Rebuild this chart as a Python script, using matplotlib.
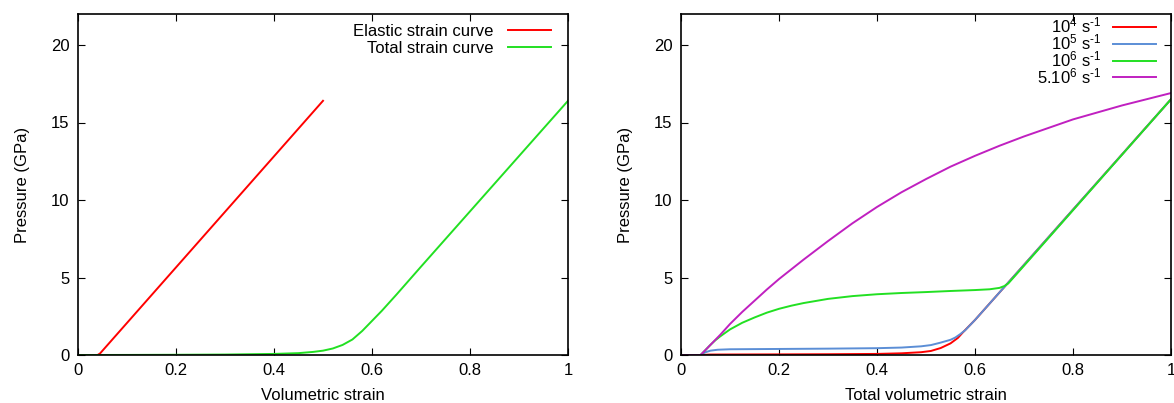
import numpy as np
import matplotlib.pyplot as plt

plt.rcParams['font.family'] = ['Liberation Sans', 'DejaVu Sans']
plt.rcParams['mathtext.fontset'] = 'custom'
plt.rcParams['mathtext.rm'] = 'Liberation Sans'
plt.rcParams['mathtext.it'] = 'Liberation Sans'

# ---- left panel: elastic vs total strain curve ----
elastic_x = [0.0, 0.04, 0.045, 0.5]
elastic_p = [0.0, 0.0, 0.1, 16.4]

total_x = [0.0, 0.1, 0.2, 0.3, 0.4, 0.45, 0.48, 0.5, 0.52, 0.54, 0.56, 0.58,
           0.6, 0.62, 0.65, 0.7, 1.0]
total_p = [0.0, 0.005, 0.015, 0.03, 0.07, 0.12, 0.2, 0.28, 0.42, 0.65, 1.0, 1.55,
           2.2, 2.85, 3.9, 5.7, 16.4]

# ---- right panel: strain rates ----
r4_x = [0.0, 0.04, 0.06, 0.2, 0.3, 0.4, 0.45, 0.49, 0.51, 0.53, 0.55, 0.565,
        0.575, 0.6, 0.665, 1.0]
r4_p = [0.0, 0.0, 0.03, 0.04, 0.05, 0.07, 0.11, 0.18, 0.26, 0.45, 0.75, 1.1,
        1.45, 2.26, 4.57, 16.5]

r5_x = [0.0, 0.04, 0.05, 0.06, 0.075, 0.1, 0.2, 0.3, 0.4, 0.45, 0.49, 0.51,
        0.53, 0.55, 0.56, 0.57, 0.58, 0.6, 0.665, 1.0]
r5_p = [0.0, 0.0, 0.18, 0.28, 0.34, 0.37, 0.39, 0.41, 0.44, 0.48, 0.56, 0.64,
        0.8, 0.98, 1.13, 1.35, 1.6, 2.26, 4.57, 16.5]

r6_x = [0.0, 0.04, 0.06, 0.07, 0.08, 0.1, 0.125, 0.15, 0.175, 0.2, 0.225, 0.25,
        0.3, 0.35, 0.4, 0.45, 0.5, 0.55, 0.6, 0.63, 0.65, 0.66, 0.668, 0.7, 1.0]
r6_p = [0.0, 0.0, 0.65, 0.95, 1.2, 1.65, 2.08, 2.42, 2.73, 2.98, 3.18, 3.35,
        3.62, 3.8, 3.92, 4.0, 4.06, 4.13, 4.19, 4.24, 4.33, 4.45, 4.62, 5.76, 16.5]

r56_x = [0.0, 0.04, 0.06, 0.08, 0.1, 0.125, 0.15, 0.175, 0.2, 0.25, 0.3, 0.35,
         0.4, 0.45, 0.5, 0.55, 0.6, 0.65, 0.7, 0.75, 0.8, 0.85, 0.9, 0.95, 1.0]
r56_p = [0.0, 0.0, 0.65, 1.3, 2.0, 2.78, 3.5, 4.22, 4.9, 6.15, 7.35, 8.5,
         9.55, 10.5, 11.35, 12.15, 12.85, 13.5, 14.1, 14.65, 15.2, 15.65, 16.1,
         16.5, 16.9]

RED = '#ff0000'
BLUE = '#5b8ed6'
GREEN = '#22e022'
MAGENTA = '#c020c0'
LW = 1.4
FS = 12


def style_axes(ax, xlabel):
    ax.set_xlim(0, 1)
    ax.set_ylim(0, 22)
    ax.set_xticks([0, 0.2, 0.4, 0.6, 0.8, 1])
    ax.set_xticklabels(['0', '0.2', '0.4', '0.6', '0.8', '1'])
    ax.set_yticks([0, 5, 10, 15, 20])
    ax.tick_params(direction='in', top=True, right=True, length=5,
                   width=0.8, labelsize=FS, pad=6)
    for s in ax.spines.values():
        s.set_linewidth(1.2)
    ax.set_xlabel(xlabel, fontsize=FS, labelpad=7)
    ax.set_ylabel('Pressure (GPa)', fontsize=FS, labelpad=15)


fig = plt.figure(figsize=(11.74, 4.03), dpi=100)
ax1 = fig.add_axes([78 / 1174, 48 / 403, 490 / 1174, 341 / 403])
ax2 = fig.add_axes([681 / 1174, 48 / 403, 490 / 1174, 341 / 403])

ax1.plot(elastic_x, elastic_p, color=RED, lw=LW, label='Elastic strain curve')
ax1.plot(total_x, total_p, color=GREEN, lw=LW, label='Total strain curve')
style_axes(ax1, 'Volumetric strain')
ax1.legend(loc='upper right', bbox_to_anchor=(1 - 7 / 490, 1), frameon=False,
           markerfirst=False, fontsize=FS, handlelength=2.6, handletextpad=0.85,
           labelspacing=0.1, borderaxespad=0.2)

ax2.plot(r4_x, r4_p, color=RED, lw=LW, label=r'$\mathregular{10^{4}\ s^{\text{-}1}}$')
ax2.plot(r5_x, r5_p, color=BLUE, lw=LW, label=r'$\mathregular{10^{5}\ s^{\text{-}1}}$')
ax2.plot(r6_x, r6_p, color=GREEN, lw=LW, label=r'$\mathregular{10^{6}\ s^{\text{-}1}}$')
ax2.plot(r56_x, r56_p, color=MAGENTA, lw=LW,
         label=r'$\mathregular{5.10^{6}\ s^{\text{-}1}}$')
style_axes(ax2, 'Total volumetric strain')
ax2.legend(loc='upper right', bbox_to_anchor=(1 - 8 / 490, 1 + 5 / 341),
           frameon=False, markerfirst=False, fontsize=FS, handlelength=2.6,
           handletextpad=0.7, labelspacing=-0.18, borderaxespad=0.0)

fig.savefig('out.png', dpi=100)
